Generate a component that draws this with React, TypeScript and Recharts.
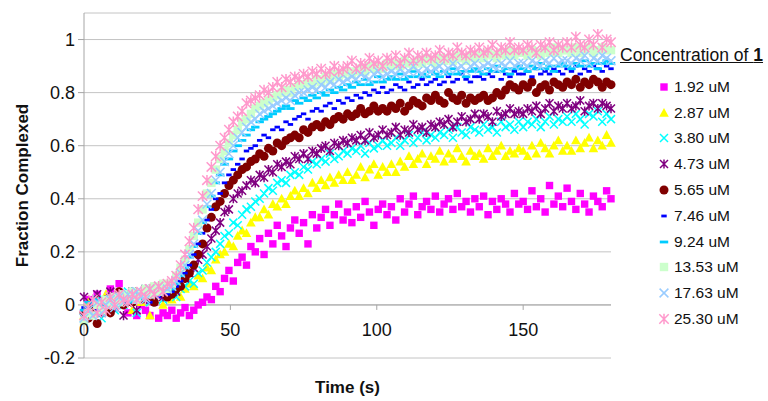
import React from "react";
import { ScatterChart, Scatter, XAxis, YAxis, CartesianGrid, ReferenceLine, Legend } from "recharts";

// time points (s)
const TIME = [0, 1.5, 3, 4.5, 6, 7.5, 9, 10.5, 12, 13.5,
  15, 16.5, 18, 19.5, 21, 22.5, 24, 25.5, 27, 28.5,
  30, 31.5, 33, 34.5, 36, 37.5, 39, 40.5, 42, 43.5,
  45, 46.5, 48, 49.5, 51, 52.5, 54, 55.5, 57, 58.5,
  60, 61.5, 63, 64.5, 66, 67.5, 69, 70.5, 72, 73.5,
  75, 76.5, 78, 79.5, 81, 82.5, 84, 85.5, 87, 88.5,
  90, 91.5, 93, 94.5, 96, 97.5, 99, 100.5, 102, 103.5,
  105, 106.5, 108, 109.5, 111, 112.5, 114, 115.5, 117, 118.5,
  120, 121.5, 123, 124.5, 126, 127.5, 129, 130.5, 132, 133.5,
  135, 136.5, 138, 139.5, 141, 142.5, 144, 145.5, 147, 148.5,
  150, 151.5, 153, 154.5, 156, 157.5, 159, 160.5, 162, 163.5,
  165, 166.5, 168, 169.5, 171, 172.5, 174, 175.5, 177, 178.5,
  180];

const C_1_92 = [-0.03, 0.02, -0.01, 0.04, 0.0, -0.02, 0.06, 0.03, 0.08, 0.01,
  -0.03, 0.03, -0.04, 0.0, -0.02, -0.04, 0.01, -0.05, -0.03, -0.04,
  -0.02, -0.05, -0.03, -0.01, -0.04, -0.02, 0.0, 0.01, 0.03, 0.02,
  0.07, 0.05, 0.1, 0.13, 0.09, 0.16, 0.18, 0.15, 0.22, 0.2,
  0.25, 0.19, 0.27, 0.23, 0.3, 0.26, 0.22, 0.29, 0.32, 0.27,
  0.31, 0.23, 0.34, 0.29, 0.33, 0.36, 0.3, 0.34, 0.38, 0.32,
  0.35, 0.31, 0.37, 0.33, 0.39, 0.35, 0.3, 0.36, 0.38, 0.34,
  0.37, 0.32, 0.4, 0.35, 0.38, 0.41, 0.34, 0.37, 0.39, 0.36,
  0.41, 0.35, 0.38, 0.4, 0.36, 0.42, 0.37, 0.39, 0.35, 0.4,
  0.37, 0.41, 0.34, 0.39, 0.36, 0.4, 0.38, 0.35, 0.42, 0.38,
  0.39, 0.36, 0.43, 0.37, 0.4, 0.35, 0.45, 0.38, 0.41, 0.37,
  0.44, 0.39, 0.36, 0.42, 0.38, 0.35, 0.41, 0.39, 0.37, 0.43,
  0.4];

const C_2_87 = [-0.04, 0.01, -0.02, 0.03, 0.0, 0.04, -0.01, 0.02, 0.05, 0.01,
  0.03, -0.02, 0.04, 0.01, 0.06, -0.04, 0.02, 0.04, 0.0, 0.03,
  0.02, 0.05, 0.03, 0.06, 0.08, 0.07, 0.11, 0.1, 0.14, 0.13,
  0.17, 0.19, 0.2, 0.23, 0.22, 0.26, 0.28, 0.27, 0.31, 0.33,
  0.33, 0.36, 0.34, 0.38, 0.37, 0.4, 0.38, 0.41, 0.43, 0.41,
  0.44, 0.42, 0.46, 0.44, 0.47, 0.45, 0.48, 0.46, 0.49, 0.47,
  0.5, 0.47, 0.49, 0.52, 0.48, 0.51, 0.53, 0.49, 0.52, 0.5,
  0.53, 0.5, 0.54, 0.52, 0.56, 0.53, 0.55, 0.57, 0.53, 0.56,
  0.55, 0.58, 0.54, 0.57, 0.55, 0.59, 0.56, 0.54, 0.58, 0.56,
  0.57, 0.55, 0.59, 0.56, 0.58, 0.6, 0.56, 0.58, 0.57, 0.59,
  0.58, 0.56, 0.6, 0.57, 0.61, 0.59, 0.57, 0.6, 0.62, 0.58,
  0.6, 0.58, 0.62, 0.59, 0.61, 0.63, 0.59, 0.62, 0.6, 0.64,
  0.61];

const C_3_80 = [-0.05, -0.01, -0.03, 0.02, -0.05, 0.01, 0.03, -0.02, 0.04, 0.0,
  0.05, 0.02, -0.03, 0.04, 0.06, 0.01, 0.03, 0.05, 0.02, 0.04,
  0.05, 0.03, 0.06, 0.07, 0.09, 0.08, 0.12, 0.13, 0.16, 0.18,
  0.2, 0.23, 0.26, 0.27, 0.31, 0.3, 0.34, 0.36, 0.37, 0.39,
  0.4, 0.42, 0.44, 0.43, 0.46, 0.47, 0.46, 0.49, 0.5, 0.49,
  0.52, 0.51, 0.54, 0.53, 0.55, 0.54, 0.57, 0.55, 0.56, 0.58,
  0.57, 0.59, 0.58, 0.6, 0.57, 0.61, 0.59, 0.6, 0.62, 0.6,
  0.61, 0.63, 0.6, 0.62, 0.64, 0.61, 0.63, 0.65, 0.62, 0.64,
  0.63, 0.65, 0.64, 0.66, 0.63, 0.67, 0.65, 0.64, 0.67, 0.66,
  0.65, 0.68, 0.66, 0.67, 0.65, 0.69, 0.67, 0.68, 0.66, 0.69,
  0.67, 0.69, 0.68, 0.7, 0.67, 0.69, 0.71, 0.68, 0.7, 0.69,
  0.71, 0.69, 0.72, 0.7, 0.68, 0.72, 0.71, 0.73, 0.69, 0.72,
  0.7];

const C_4_73 = [0.03, -0.02, 0.01, 0.04, -0.03, 0.0, 0.05, -0.01, 0.02, -0.04,
  0.01, 0.05, -0.02, 0.03, 0.06, 0.02, 0.04, 0.07, 0.03, 0.05,
  0.06, 0.05, 0.08, 0.1, 0.12, 0.14, 0.17, 0.19, 0.22, 0.25,
  0.28, 0.31, 0.35, 0.36, 0.4, 0.42, 0.43, 0.45, 0.47, 0.46,
  0.49, 0.48, 0.51, 0.5, 0.53, 0.52, 0.54, 0.53, 0.56, 0.55,
  0.57, 0.55, 0.58, 0.57, 0.59, 0.6, 0.58, 0.61, 0.6, 0.62,
  0.61, 0.63, 0.62, 0.64, 0.62, 0.65, 0.63, 0.64, 0.66, 0.64,
  0.65, 0.67, 0.64, 0.66, 0.65, 0.68, 0.66, 0.67, 0.65, 0.68,
  0.67, 0.69, 0.68, 0.7, 0.67, 0.69, 0.71, 0.69, 0.7, 0.72,
  0.7, 0.72, 0.71, 0.69, 0.73, 0.71, 0.72, 0.74, 0.72, 0.73,
  0.72, 0.74, 0.73, 0.75, 0.72, 0.74, 0.76, 0.73, 0.75, 0.74,
  0.76, 0.74, 0.75, 0.77, 0.73, 0.75, 0.76, 0.74, 0.76, 0.75,
  0.74];

const C_5_65 = [-0.03, -0.05, -0.02, -0.07, -0.01, 0.02, -0.03, 0.01, 0.05, 0.0,
  0.03, 0.01, 0.04, 0.02, 0.05, 0.03, 0.01, 0.04, 0.05, 0.03,
  0.04, 0.06, 0.07, 0.1, 0.12, 0.15, 0.19, 0.23, 0.29, 0.33,
  0.37, 0.39, 0.42, 0.45, 0.47, 0.49, 0.51, 0.52, 0.54, 0.55,
  0.57, 0.56, 0.59, 0.58, 0.61, 0.6, 0.62, 0.63, 0.64, 0.63,
  0.66, 0.65, 0.67, 0.68, 0.67, 0.69, 0.68, 0.7, 0.71, 0.7,
  0.72, 0.71, 0.72, 0.74, 0.72, 0.73, 0.75, 0.73, 0.74, 0.73,
  0.75, 0.74, 0.76, 0.73, 0.75, 0.77, 0.76, 0.75, 0.78, 0.77,
  0.79, 0.77, 0.76, 0.8, 0.78, 0.77, 0.79, 0.76, 0.78, 0.77,
  0.78, 0.79, 0.77, 0.78, 0.8, 0.79, 0.81, 0.83, 0.82, 0.81,
  0.83, 0.82, 0.84, 0.8, 0.82, 0.83, 0.81, 0.84, 0.83, 0.82,
  0.84, 0.83, 0.85, 0.82, 0.84, 0.83, 0.85, 0.84, 0.82, 0.84,
  0.83];

const C_7_46 = [-0.01, -0.04, 0.01, -0.02, 0.02, -0.01, 0.03, 0.0, 0.02, 0.04,
  0.01, 0.03, 0.05, 0.02, 0.04, 0.01, 0.05, 0.03, 0.06, 0.04,
  0.05, 0.07, 0.09, 0.12, 0.15, 0.19, 0.23, 0.27, 0.32, 0.36,
  0.4, 0.42, 0.46, 0.49, 0.51, 0.53, 0.55, 0.58, 0.59, 0.6,
  0.62, 0.64, 0.63, 0.66, 0.67, 0.66, 0.69, 0.68, 0.7, 0.71,
  0.72, 0.7, 0.73, 0.74, 0.73, 0.75, 0.76, 0.74, 0.77, 0.76,
  0.78, 0.77, 0.79, 0.78, 0.8, 0.79, 0.81, 0.8, 0.82, 0.8,
  0.81, 0.83, 0.82, 0.81, 0.84, 0.82, 0.83, 0.85, 0.83, 0.84,
  0.85, 0.83, 0.84, 0.86, 0.84, 0.85, 0.87, 0.85, 0.84, 0.86,
  0.86, 0.85, 0.87, 0.86, 0.88, 0.85, 0.87, 0.86, 0.88, 0.87,
  0.87, 0.88, 0.86, 0.89, 0.87, 0.88, 0.87, 0.89, 0.88, 0.87,
  0.89, 0.88, 0.9, 0.87, 0.89, 0.88, 0.9, 0.89, 0.88, 0.9,
  0.89];

const C_9_24 = [-0.02, 0.01, -0.03, 0.02, 0.0, -0.01, 0.03, 0.01, 0.04, 0.02,
  0.03, 0.01, 0.04, 0.02, 0.05, 0.03, 0.06, 0.04, 0.05, 0.07,
  0.06, 0.08, 0.11, 0.14, 0.18, 0.22, 0.27, 0.31, 0.37, 0.41,
  0.46, 0.49, 0.53, 0.55, 0.58, 0.6, 0.62, 0.64, 0.66, 0.67,
  0.69, 0.7, 0.71, 0.72, 0.73, 0.74, 0.75, 0.74, 0.77, 0.76,
  0.78, 0.77, 0.79, 0.78, 0.8, 0.79, 0.81, 0.8, 0.82, 0.81,
  0.83, 0.82, 0.84, 0.83, 0.85, 0.83, 0.84, 0.86, 0.84, 0.85,
  0.86, 0.85, 0.87, 0.85, 0.86, 0.88, 0.86, 0.87, 0.86, 0.88,
  0.87, 0.86, 0.88, 0.87, 0.89, 0.87, 0.88, 0.86, 0.88, 0.89,
  0.88, 0.87, 0.89, 0.88, 0.9, 0.88, 0.89, 0.87, 0.89, 0.9,
  0.89, 0.88, 0.9, 0.89, 0.91, 0.89, 0.9, 0.88, 0.9, 0.91,
  0.9, 0.89, 0.91, 0.9, 0.92, 0.9, 0.91, 0.89, 0.91, 0.92,
  0.91];

const C_13_53 = [-0.06, -0.03, -0.04, 0.0, -0.02, 0.02, 0.0, 0.03, 0.01, 0.04,
  0.03, 0.05, 0.02, 0.04, 0.06, 0.04, 0.07, 0.05, 0.08, 0.06,
  0.08, 0.11, 0.14, 0.17, 0.21, 0.26, 0.31, 0.36, 0.42, 0.46,
  0.51, 0.55, 0.58, 0.61, 0.64, 0.66, 0.69, 0.7, 0.72, 0.74,
  0.75, 0.76, 0.77, 0.78, 0.79, 0.8, 0.81, 0.8, 0.82, 0.83,
  0.83, 0.84, 0.83, 0.85, 0.84, 0.86, 0.85, 0.87, 0.86, 0.87,
  0.88, 0.87, 0.88, 0.89, 0.88, 0.9, 0.89, 0.9, 0.89, 0.91,
  0.9, 0.91, 0.9, 0.92, 0.91, 0.9, 0.92, 0.91, 0.93, 0.92,
  0.91, 0.93, 0.92, 0.93, 0.92, 0.94, 0.93, 0.92, 0.94, 0.93,
  0.94, 0.93, 0.95, 0.94, 0.93, 0.95, 0.94, 0.96, 0.94, 0.95,
  0.95, 0.94, 0.96, 0.95, 0.94, 0.96, 0.95, 0.97, 0.95, 0.96,
  0.96, 0.95, 0.97, 0.95, 0.96, 0.97, 0.95, 0.96, 0.97, 0.96,
  0.96];

const C_17_63 = [-0.05, -0.02, -0.04, 0.01, -0.03, 0.0, 0.02, -0.01, 0.03, 0.01,
  0.04, 0.02, 0.05, 0.03, 0.02, 0.06, 0.04, 0.07, 0.05, 0.06,
  0.07, 0.09, 0.12, 0.15, 0.19, 0.23, 0.28, 0.32, 0.38, 0.42,
  0.47, 0.5, 0.54, 0.57, 0.6, 0.63, 0.65, 0.67, 0.69, 0.7,
  0.72, 0.73, 0.74, 0.75, 0.76, 0.77, 0.78, 0.77, 0.79, 0.8,
  0.8, 0.81, 0.82, 0.81, 0.83, 0.82, 0.84, 0.83, 0.85, 0.84,
  0.85, 0.86, 0.85, 0.87, 0.86, 0.85, 0.87, 0.88, 0.86, 0.87,
  0.88, 0.87, 0.89, 0.87, 0.88, 0.9, 0.88, 0.87, 0.89, 0.88,
  0.89, 0.9, 0.88, 0.89, 0.91, 0.89, 0.9, 0.88, 0.9, 0.91,
  0.89, 0.9, 0.91, 0.9, 0.89, 0.91, 0.9, 0.92, 0.9, 0.91,
  0.91, 0.9, 0.92, 0.91, 0.9, 0.92, 0.91, 0.93, 0.91, 0.92,
  0.92, 0.91, 0.93, 0.92, 0.94, 0.91, 0.93, 0.92, 0.94, 0.93,
  0.92];

const C_25_30 = [-0.04, -0.01, 0.02, -0.03, 0.01, -0.02, 0.03, 0.0, 0.04, 0.02,
  0.01, 0.04, 0.02, 0.05, 0.03, 0.06, 0.04, 0.07, 0.05, 0.08,
  0.09, 0.11, 0.15, 0.19, 0.24, 0.29, 0.36, 0.41, 0.47, 0.52,
  0.56, 0.6, 0.63, 0.66, 0.69, 0.71, 0.73, 0.76, 0.77, 0.78,
  0.79, 0.81, 0.8, 0.82, 0.84, 0.82, 0.85, 0.84, 0.86, 0.85,
  0.87, 0.86, 0.88, 0.87, 0.89, 0.87, 0.88, 0.9, 0.88, 0.89,
  0.9, 0.92, 0.89, 0.91, 0.9, 0.93, 0.91, 0.92, 0.9, 0.93,
  0.92, 0.94, 0.91, 0.93, 0.95, 0.92, 0.94, 0.93, 0.95, 0.93,
  0.94, 0.96, 0.93, 0.95, 0.94, 0.97, 0.95, 0.94, 0.96, 0.95,
  0.97, 0.95, 0.96, 0.98, 0.95, 0.97, 0.96, 0.99, 0.96, 0.97,
  0.96, 0.98, 0.97, 0.95, 0.98, 0.97, 0.99, 0.96, 0.98, 0.97,
  0.99, 0.97, 1.01, 0.98, 0.97, 1.0, 0.98, 1.02, 0.97, 1.0,
  0.99];

const NAMES = ["1.92 uM", "2.87 uM", "3.80 uM", "4.73 uM", "5.65 uM", "7.46 uM", "9.24 uM", "13.53 uM", "17.63 uM", "25.30 uM"];
const VALUES = [C_1_92, C_2_87, C_3_80, C_4_73, C_5_65, C_7_46, C_9_24, C_13_53, C_17_63, C_25_30];
const COLORS = ["#FF00FF", "#FFFF00", "#00FFFF", "#800080", "#800000", "#0000FF", "#00CCFF", "#CCFFCC", "#99CCFF", "#FF99CC"];
const KINDS = ["square", "triangle", "x", "star", "circle", "dash", "longdash", "bigsquare", "bigx", "bigstar"];

const X_TICKS = [0, 50, 100, 150];
const Y_TICKS = [-0.2, 0, 0.2, 0.4, 0.6, 0.8, 1];
const Y_MIN = -0.2;
const Y_MAX = 1.1;

const W = 768;
const H = 401;
const M = { top: 13, right: 157, bottom: 13, left: 24 };
const X_AXIS_H = 30;
const Y_AXIS_W = 60;
const PLOT_H = H - M.top - M.bottom - X_AXIS_H;
const ZERO_Y = M.top + (PLOT_H * Y_MAX) / (Y_MAX - Y_MIN);

const FONT = "'Liberation Sans', Arial, sans-serif";
const GRID = "#c4c4c4";
const AXIS = "#a6a6a6";

function Marker({ kind, color, cx, cy }: { kind: string; color: string; cx: number; cy: number }) {
  if (cx == null || cy == null) return null;
  switch (kind) {
    case "square":
      return <rect x={cx - 3.7} y={cy - 3.7} width={7.4} height={7.4} fill={color} />;
    case "bigsquare":
      return <rect x={cx - 4.2} y={cy - 4.2} width={8.4} height={8.4} fill={color} />;
    case "triangle":
      return <polygon points={`${cx},${cy - 5} ${cx + 4.8},${cy + 3.8} ${cx - 4.8},${cy + 3.8}`} fill={color} />;
    case "x":
    case "bigx": {
      const r = kind === "x" ? 4 : 4.4;
      return <path d={`M${cx - r},${cy - r}L${cx + r},${cy + r}M${cx - r},${cy + r}L${cx + r},${cy - r}`} stroke={color} strokeWidth={1.5} fill="none" />;
    }
    case "star":
    case "bigstar": {
      const r = kind === "star" ? 4 : 4.7;
      return (
        <path
          d={`M${cx - r},${cy - r}L${cx + r},${cy + r}M${cx - r},${cy + r}L${cx + r},${cy - r}M${cx},${cy - r - 0.6}L${cx},${cy + r + 0.6}`}
          stroke={color}
          strokeWidth={1.5}
          fill="none"
        />
      );
    }
    case "circle":
      return <circle cx={cx} cy={cy} r={4.5} fill={color} />;
    case "dash":
      return <rect x={cx - 2.7} y={cy - 1.4} width={5.4} height={2.8} fill={color} />;
    case "longdash":
      return <rect x={cx - 4.2} y={cy - 1.4} width={8.4} height={2.8} fill={color} />;
    default:
      return null;
  }
}

const XTick = ({ x, payload }: any) => (
  <g>
    <line x1={x} x2={x} y1={ZERO_Y} y2={ZERO_Y + 5} stroke={AXIS} />
    <text x={x} y={ZERO_Y + 31} textAnchor="middle" fontSize={18} fontFamily={FONT} fill="#111">
      {payload.value}
    </text>
  </g>
);

const YLabel = ({ viewBox }: any) => {
  const cx = viewBox.x - 2;
  const cy = viewBox.y + viewBox.height / 2;
  return (
    <text x={cx} y={cy} transform={`rotate(-90 ${cx} ${cy})`} textAnchor="middle" dominantBaseline="central" fontSize={17} fontWeight="bold" fontFamily={FONT} fill="#111">
      Fraction Complexed
    </text>
  );
};

const XLabel = ({ viewBox }: any) => (
  <text x={viewBox.x + viewBox.width / 2} y={viewBox.y + 35} textAnchor="middle" fontSize={17} fontWeight="bold" fontFamily={FONT} fill="#111">
    Time (s)
  </text>
);

const renderLegend = ({ payload }: any) => (
  <div style={{ fontFamily: FONT, color: "#111" }}>
    <div style={{ fontSize: 17.5, lineHeight: "22px", textDecoration: "underline", whiteSpace: "nowrap" }}>
      Concentration of <b>1</b>
    </div>
    <div style={{ marginTop: 8 }}>
      {(payload || []).map((entry: any) => {
        const i = NAMES.indexOf(entry.value);
        return (
          <div key={entry.value} style={{ display: "flex", alignItems: "center", height: 25.8, marginLeft: 38 }}>
            <svg width={12} height={12} style={{ display: "block" }}>
              <Marker kind={KINDS[i]} color={COLORS[i]} cx={6} cy={6} />
            </svg>
            <span style={{ fontSize: 15.5, marginLeft: 4, whiteSpace: "nowrap" }}>{entry.value}</span>
          </div>
        );
      })}
    </div>
  </div>
);

export default function App() {
  return (
    <div style={{ position: "absolute", left: 0, top: 0, width: W, height: H, background: "#fff" }}>
      <ScatterChart width={W} height={H} margin={M}>
        <CartesianGrid horizontal vertical={false} stroke={GRID} />
        <XAxis
          type="number"
          dataKey="t"
          domain={[0, 180]}
          ticks={X_TICKS}
          height={X_AXIS_H}
          axisLine={false}
          tickLine={false}
          tick={<XTick />}
          interval={0}
          label={<XLabel />}
        />
        <YAxis
          type="number"
          dataKey="v"
          domain={[Y_MIN, Y_MAX]}
          ticks={Y_TICKS}
          width={Y_AXIS_W}
          interval={0}
          axisLine={{ stroke: AXIS }}
          tickLine={{ stroke: AXIS }}
          tickSize={6}
          tickMargin={3}
          tick={{ fontSize: 18, fill: "#111", fontFamily: FONT }}
          label={<YLabel />}
        />
        <ReferenceLine y={0} stroke={AXIS} />
        {VALUES.map((vals, s) => (
          <Scatter
            key={NAMES[s]}
            name={NAMES[s]}
            data={TIME.map((t, i) => ({ t, v: vals[i] }))}
            fill={COLORS[s]}
            isAnimationActive={false}
            shape={(p: any) => <Marker kind={KINDS[s]} color={COLORS[s]} cx={p.cx} cy={p.cy} />}
          />
        ))}
        <Legend
          layout="vertical"
          align="center"
          verticalAlign="middle"
          itemSorter={(item: any) => NAMES.indexOf(item.value)}
          wrapperStyle={{ left: 620, top: 44, width: 148 }}
          content={renderLegend}
        />
      </ScatterChart>
    </div>
  );
}
